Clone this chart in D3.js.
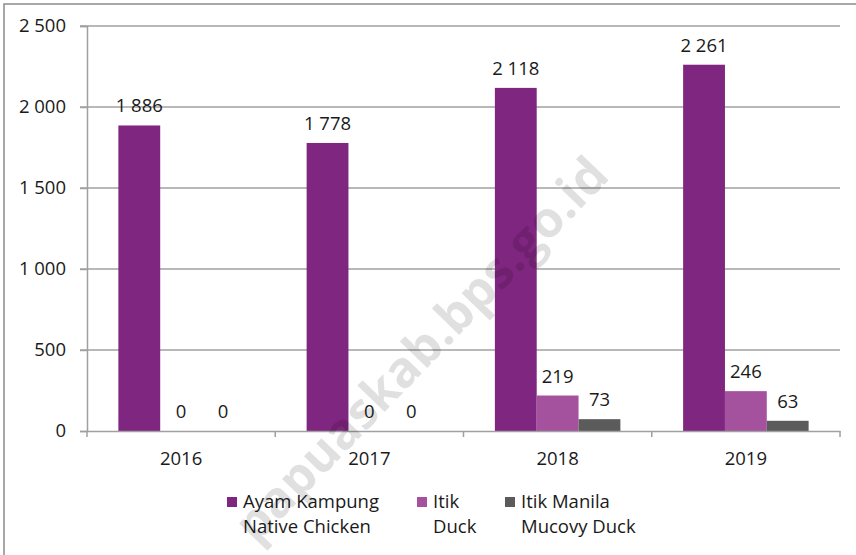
<!DOCTYPE html>
<html>
<head>
<meta charset="utf-8">
<script src="https://cdn.jsdelivr.net/npm/d3@7"></script>
<style>
  body { margin: 0; background: #fff; }
  text { font-family: "Open Sans", sans-serif; }
</style>
</head>
<body>
<div id="chart"></div>
<script>
// Chart size.
var width = 856;
var height = 555;

// Data.
var years = ["2016", "2017", "2018", "2019"];
var seriesNames = ["Ayam Kampung", "Itik", "Itik Manila"];
var seriesNamesEn = ["Native Chicken", "Duck", "Mucovy Duck"];
var ayamKampung = [1886, 1778, 2118, 2261];
var itik = [0, 0, 219, 246];
var itikManila = [0, 0, 73, 63];
var yTicks = [0, 500, 1000, 1500, 2000, 2500];

var colors = ["#7f2680", "#a4519e", "#5b5b5b"];
var seriesValues = [ayamKampung, itik, itikManila];

var fontSize = 18.5;
var margin = {top: 26, left: 87, right: 16, bottom: 124};

var svg = d3.select("#chart").append("svg")
    .attr("width", width)
    .attr("height", height);

// outer frame
svg.append("rect")
    .attr("x", 4).attr("y", 4)
    .attr("width", width + 10).attr("height", height + 10)
    .attr("fill", "none")
    .attr("stroke", "#8c8c8c")
    .attr("stroke-width", 1.5);

var x0 = d3.scaleBand()
    .domain(years)
    .range([margin.left, width - margin.right]);

var x1 = d3.scaleBand()
    .domain(d3.range(seriesNames.length))
    .range([0, x0.bandwidth()])
    .paddingOuter(0.75)
    .paddingInner(0);

var y = d3.scaleLinear()
    .domain([0, 2500])
    .range([431, margin.top]);

var fmt = function(v) { return d3.format(",")(v).replace(/,/g, " "); };

// gridlines
svg.append("g")
    .selectAll("line")
    .data(yTicks.slice(1))
    .enter().append("line")
    .attr("x1", margin.left - 7)
    .attr("x2", width - margin.right)
    .attr("y1", function(d) { return y(d); })
    .attr("y2", function(d) { return y(d); })
    .attr("stroke", "#a0a0a0")
    .attr("stroke-width", 1.5);

// y axis
var yAxis = svg.append("g")
    .attr("transform", "translate(" + margin.left + ",0)")
    .call(d3.axisLeft(y).tickValues(yTicks).tickFormat(fmt).tickSize(7).tickPadding(14));
yAxis.select(".domain").attr("stroke", "#a0a0a0").attr("stroke-width", 1.5);
yAxis.selectAll(".tick line").attr("stroke", "#a0a0a0").attr("stroke-width", 1.5);
yAxis.selectAll(".tick text")
    .attr("font-size", fontSize)
    .attr("fill", "#1a1a1a")
    .style("font-family", "'Open Sans', sans-serif");

// bars
var groups = svg.append("g")
    .selectAll("g")
    .data(years)
    .enter().append("g")
    .attr("transform", function(d) { return "translate(" + x0(d) + ",0)"; });

groups.selectAll("rect")
    .data(function(d, i) {
      return seriesValues.map(function(s, k) { return {k: k, v: s[i]}; });
    })
    .enter().append("rect")
    .attr("x", function(d) { return x1(d.k); })
    .attr("width", x1.bandwidth())
    .attr("y", function(d) { return y(d.v); })
    .attr("height", function(d) { return y(0) - y(d.v); })
    .attr("fill", function(d) { return colors[d.k]; });

groups.selectAll("text.val")
    .data(function(d, i) {
      return seriesValues.map(function(s, k) { return {k: k, v: s[i]}; });
    })
    .enter().append("text")
    .attr("class", "val")
    .attr("x", function(d) { return x1(d.k) + x1.bandwidth() / 2; })
    .attr("y", function(d) { return y(d.v) - 13; })
    .attr("text-anchor", "middle")
    .attr("font-size", fontSize)
    .attr("fill", "#1a1a1a")
    .text(function(d) { return fmt(d.v); });

// x axis
var xAxis = svg.append("g")
    .attr("transform", "translate(0," + y(0) + ")")
    .call(d3.axisBottom(x0).tickSize(0).tickPadding(21));
xAxis.select(".domain").attr("stroke", "#a0a0a0").attr("stroke-width", 1.5);
xAxis.selectAll(".tick text")
    .attr("font-size", fontSize)
    .attr("fill", "#1a1a1a")
    .style("font-family", "'Open Sans', sans-serif");
xAxis.selectAll("line.sep")
    .data(years.concat(["end"]))
    .enter().append("line")
    .attr("class", "sep")
    .attr("x1", function(d, i) { return i < years.length ? x0(d) : x0.range()[1]; })
    .attr("x2", function(d, i) { return i < years.length ? x0(d) : x0.range()[1]; })
    .attr("y1", 0).attr("y2", 6)
    .attr("stroke", "#a0a0a0")
    .attr("stroke-width", 1.5);

// legend
var legendX = [227, 417, 505];
var legend = svg.append("g")
    .selectAll("g")
    .data(seriesNames)
    .enter().append("g")
    .attr("transform", function(d, i) { return "translate(" + legendX[i] + ",497)"; });

legend.append("rect")
    .attr("width", 10).attr("height", 10)
    .attr("fill", function(d, i) { return colors[i]; });

legend.append("text")
    .attr("x", 16).attr("y", 11)
    .attr("font-size", fontSize)
    .attr("fill", "#1a1a1a")
    .text(function(d) { return d; });

legend.append("text")
    .attr("x", 16).attr("y", 36)
    .attr("font-size", fontSize)
    .attr("fill", "#1a1a1a")
    .text(function(d, i) { return seriesNamesEn[i]; });

// watermark
svg.append("text")
    .attr("transform", "translate(424,352) rotate(-46)")
    .attr("text-anchor", "middle")
    .attr("dominant-baseline", "middle")
    .attr("font-size", 50)
    .attr("font-weight", "bold")
    .attr("fill", "#000")
    .attr("fill-opacity", 0.12)
    .style("font-family", "'Open Sans', sans-serif")
    .text("papuaskab.bps.go.id");
</script>
</body>
</html>
